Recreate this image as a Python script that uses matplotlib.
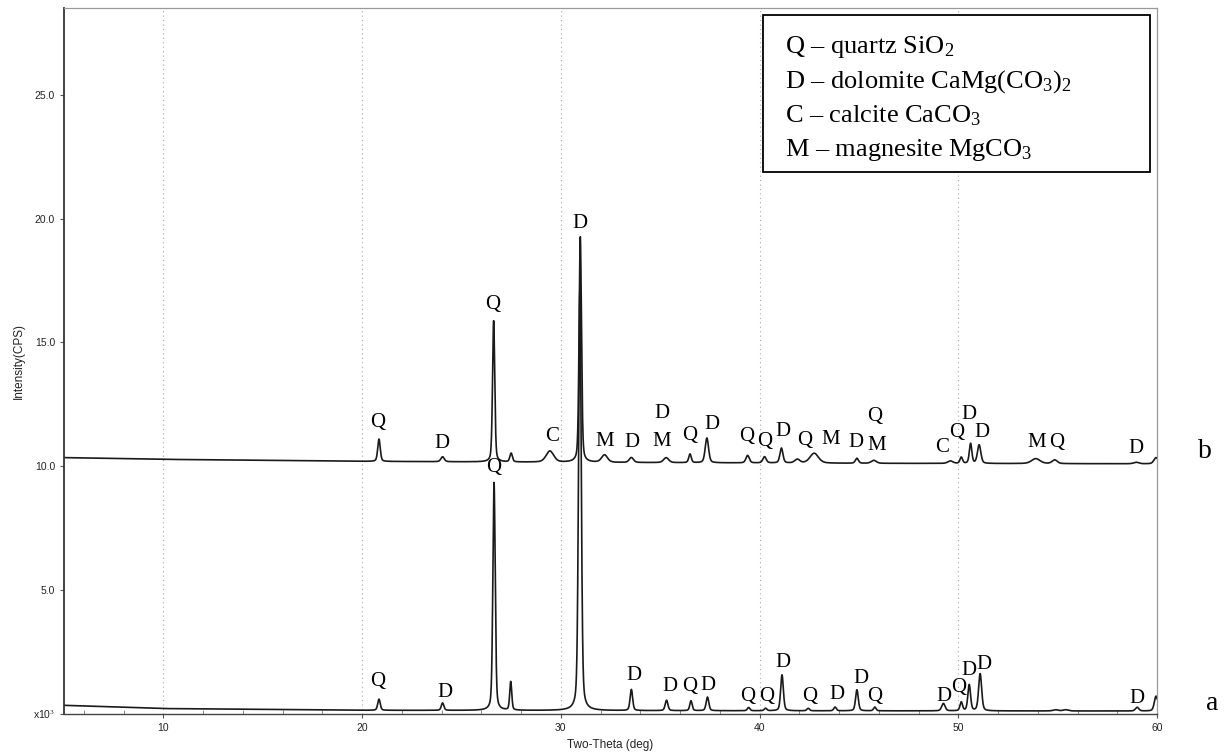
import numpy as np
import matplotlib
matplotlib.use('Agg')
import matplotlib.pyplot as plt
from matplotlib.patches import Rectangle

plt.rcParams['mathtext.fontset'] = 'custom'
plt.rcParams['mathtext.rm'] = 'Liberation Serif'
plt.rcParams['mathtext.it'] = 'Liberation Serif:italic'

# ---------------- data ----------------
# sample a: baseline points and peaks (position deg, height above baseline, FWHM deg)
a_base_x = [5, 10, 20, 40, 60]
a_base_y = [0.35, 0.22, 0.15, 0.13, 0.12]
a_pk_pos = [20.85, 24.05, 26.64, 27.48, 30.96, 33.55, 35.32, 36.55, 37.38, 39.45,
            40.30, 41.13, 42.45, 43.80, 44.90, 45.80, 49.25, 50.15, 50.55, 51.10,
            54.90, 55.40, 59.00, 59.95]
a_pk_h = [0.45, 0.30, 9.20, 1.15, 17.0, 0.85, 0.42, 0.40, 0.55, 0.13,
          0.10, 1.45, 0.10, 0.15, 0.85, 0.15, 0.30, 0.35, 1.05, 1.50,
          0.05, 0.05, 0.15, 0.60]
a_pk_w = [0.15, 0.15, 0.14, 0.12, 0.16, 0.15, 0.16, 0.14, 0.16, 0.15,
          0.15, 0.16, 0.15, 0.15, 0.16, 0.15, 0.20, 0.15, 0.16, 0.18,
          0.30, 0.30, 0.20, 0.20]

# sample b
b_base_x = [5, 10, 20, 30, 45, 60]
b_base_y = [10.35, 10.28, 10.20, 10.16, 10.12, 10.10]
b_pk_pos = [20.85, 24.05, 26.62, 27.50, 29.45, 30.98, 32.20, 33.55, 35.30, 36.50,
            37.35, 39.40, 40.25, 41.10, 41.90, 42.75, 44.90, 45.75, 49.60, 50.15,
            50.62, 51.05, 53.90, 54.85, 58.95, 59.95]
b_pk_h = [0.90, 0.20, 5.70, 0.35, 0.45, 9.10, 0.30, 0.20, 0.20, 0.35,
          1.00, 0.30, 0.25, 0.60, 0.15, 0.40, 0.20, 0.12, 0.10, 0.25,
          0.80, 0.75, 0.20, 0.15, 0.06, 0.25]
b_pk_w = [0.15, 0.20, 0.13, 0.15, 0.45, 0.14, 0.35, 0.25, 0.30, 0.15,
          0.20, 0.20, 0.20, 0.18, 0.30, 0.50, 0.18, 0.30, 0.30, 0.15,
          0.15, 0.20, 0.50, 0.30, 0.30, 0.25]

# phase labels
b_lab_x = [20.8, 24.0, 26.58, 29.55, 30.95, 32.2, 33.6, 35.07, 35.1, 36.5, 37.6, 39.35, 40.25,
           41.2, 42.26, 43.6, 44.87, 45.8, 45.9, 49.2, 49.9, 50.55, 51.2, 53.97, 54.97, 58.95]
b_lab_y = [11.75, 10.9, 16.55, 11.2, 19.8, 11.0, 10.95, 12.15, 11.0, 11.25, 11.7, 11.2, 11.0,
           11.4, 11.05, 11.1, 10.97, 12.0, 10.85, 10.77, 11.37, 12.1, 11.37, 10.97, 10.97, 10.7]
b_lab_t = ['Q', 'D', 'Q', 'C', 'D', 'M', 'D', 'D', 'M', 'Q', 'D', 'Q', 'Q',
           'D', 'Q', 'M', 'D', 'Q', 'M', 'C', 'Q', 'D', 'D', 'M', 'Q', 'D']

a_lab_x = [20.8, 24.17, 26.6, 33.7, 35.48, 36.48, 37.39, 39.4, 40.35, 41.16, 42.5, 43.87,
           45.1, 45.8, 49.3, 50.0, 50.55, 51.3, 59.0]
a_lab_y = [1.3, 0.85, 9.95, 1.57, 1.13, 1.13, 1.17, 0.69, 0.69, 2.06, 0.72, 0.77,
           1.45, 0.7, 0.7, 1.05, 1.77, 1.98, 0.64]
a_lab_t = ['Q', 'D', 'Q', 'D', 'D', 'Q', 'D', 'Q', 'Q', 'D', 'Q', 'D',
           'D', 'Q', 'D', 'Q', 'D', 'D', 'D']

y_ticks = [0, 5, 10, 15, 20, 25]
y_ticklabels = ['x10$^3$', '5.0', '10.0', '15.0', '20.0', '25.0']
x_ticks = [10, 20, 30, 40, 50, 60]

legend_lines = ['Q – quartz SiO$_2$',
                'D – dolomite CaMg(CO$_3$)$_2$',
                'C – calcite CaCO$_3$',
                'M – magnesite MgCO$_3$']

# ---------------- build patterns ----------------
two_theta = np.arange(5.0, 60.0001, 0.005)


def pattern(bx, by, pos, h, w):
    y = np.interp(two_theta, bx, by)
    for p, hh, ww in zip(pos, h, w):
        d = (two_theta - p) / (ww / 2.0)
        y = y + hh * (0.65 * np.exp(-np.log(2) * d ** 2) + 0.35 / (1 + d ** 2))
    return y


ya = pattern(a_base_x, a_base_y, a_pk_pos, a_pk_h, a_pk_w)
yb = pattern(b_base_x, b_base_y, b_pk_pos, b_pk_h, b_pk_w)

W, H = 1226, 756
fig = plt.figure(figsize=(W / 100, H / 100), dpi=100)
L, R, T, B = 64, 1157, 8, 714
ax = fig.add_axes([L / W, 1 - B / H, (R - L) / W, (B - T) / H])

ax.plot(two_theta, yb, color='#1a1a1a', lw=1.2)
ax.plot(two_theta, ya, color='#1a1a1a', lw=1.2)
ax.set_xlim(5, 60)
ax.set_ylim(0, 28.5)

ax.spines['left'].set_linewidth(1.3)
ax.spines['left'].set_color('#333333')
ax.spines['bottom'].set_linewidth(1.0)
ax.spines['bottom'].set_color('#444444')
for s in ['top', 'right']:
    ax.spines[s].set_linewidth(0.9)
    ax.spines[s].set_color('#999999')

ax.set_yticks(y_ticks)
ax.set_yticklabels(y_ticklabels)
ax.set_xticks(x_ticks)
ax.set_xticks(np.arange(6, 60, 2), minor=True)
ax.tick_params(axis='both', which='major', labelsize=7.5, labelcolor='#222222',
               length=3, width=0.8, color='#555555')
ax.tick_params(axis='x', which='minor', direction='in', length=3, width=0.6, color='#777777')
for lab in ax.get_xticklabels() + ax.get_yticklabels():
    lab.set_family('Liberation Sans')

ax.grid(axis='x', which='major', linestyle=(0, (1, 3)), color='#aaaaaa', lw=0.8)

ax.set_xlabel('Two-Theta (deg)', fontsize=8.5, family='Liberation Sans', color='#222222', labelpad=4)
ax.set_ylabel('Intensity(CPS)', fontsize=8.5, family='Liberation Sans', color='#222222', labelpad=6)

for x, y, t in zip(b_lab_x, b_lab_y, b_lab_t):
    ax.text(x, y, t, fontsize=15, family='Liberation Serif', ha='center', va='center', color='black')
for x, y, t in zip(a_lab_x, a_lab_y, a_lab_t):
    ax.text(x, y, t, fontsize=15, family='Liberation Serif', ha='center', va='center', color='black')

fig.text(1205 / W, 1 - 452 / H, 'b', fontsize=20, family='Liberation Serif', ha='center', va='center')
fig.text(1212 / W, 1 - 703 / H, 'a', fontsize=20, family='Liberation Serif', ha='center', va='center')

# legend box
bx0, by0, bx1, by1 = 763, 15, 1150, 172
fig.patches.append(Rectangle((bx0 / W, 1 - by1 / H), (bx1 - bx0) / W, (by1 - by0) / H,
                             transform=fig.transFigure, facecolor='white',
                             edgecolor='black', lw=1.3, zorder=5))
line_y = [47, 82, 116, 150]
for ly, txt in zip(line_y, legend_lines):
    fig.text(785 / W, 1 - ly / H, txt, fontsize=19, family='Liberation Serif',
             ha='left', va='center', zorder=6)

fig.savefig('out.png', dpi=100)
